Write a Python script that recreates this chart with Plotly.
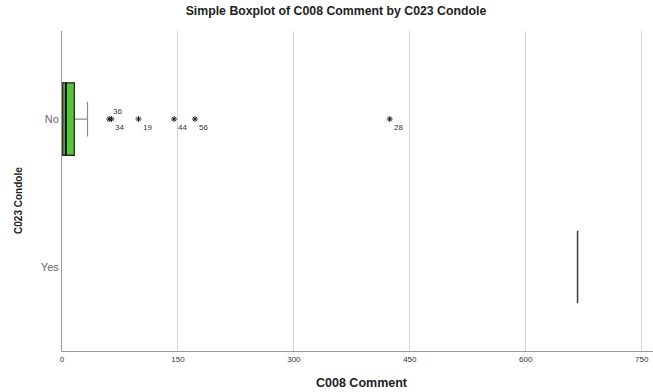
import plotly.graph_objects as go

# Groups on the vertical axis
groups = ["No", "Yes"]
group_pos = [0, 1]

# Box statistics of C008 Comment for each group
lower_fence = [0, 667]
q1 = [1, 667]
median = [5, 667]
q3 = [16, 667]
upper_fence = [33, 667]

# Extreme values (group "No") and their case labels
extreme_values = [61, 64, 99, 145, 172, 424]
extreme_labels = ["36", "34", "19", "44", "56", "28"]
label_lift = [8, -8, -8, -8, -8, -8]

x_ticks = [0, 150, 300, 450, 600, 750]

FONT = "Arial, Liberation Sans, sans-serif"
BOX_W = 0.49

fig = go.Figure()

# Whiskers (grey) for group "No"
fig.add_trace(go.Box(
    y=[group_pos[0]], orientation="h",
    q1=[q1[0]], median=[median[0]], q3=[q3[0]],
    lowerfence=[lower_fence[0]], upperfence=[upper_fence[0]],
    width=BOX_W, whiskerwidth=0.48,
    fillcolor="#5cc23b", line=dict(color="#8a8a8a", width=1.2),
    boxpoints=False, hoverinfo="skip", showlegend=False,
))
# Box body (dark outline) on top
fig.add_trace(go.Box(
    y=[group_pos[0]], orientation="h",
    q1=[q1[0]], median=[median[0]], q3=[q3[0]],
    lowerfence=[q1[0]], upperfence=[q3[0]],
    width=BOX_W, whiskerwidth=0,
    fillcolor="#5cc23b", line=dict(color="#2a2a2a", width=1.3),
    boxpoints=False, hoverinfo="skip", showlegend=False,
))
# Median emphasised
fig.add_trace(go.Scatter(
    x=[median[0], median[0]],
    y=[group_pos[0] - BOX_W / 2, group_pos[0] + BOX_W / 2],
    mode="lines", line=dict(color="#111111", width=2),
    hoverinfo="skip", showlegend=False,
))

# Group "Yes": a single value
fig.add_trace(go.Box(
    y=[group_pos[1]], orientation="h",
    q1=[q1[1]], median=[median[1]], q3=[q3[1]],
    lowerfence=[lower_fence[1]], upperfence=[upper_fence[1]],
    width=BOX_W, whiskerwidth=0.48,
    fillcolor="#5cc23b", line=dict(color="#3a3a3a", width=1.5),
    boxpoints=False, hoverinfo="skip", showlegend=False,
))

fig.add_trace(go.Scatter(
    x=extreme_values, y=[group_pos[0]] * len(extreme_values),
    mode="markers",
    marker=dict(symbol="asterisk-open", size=5, color="#222222",
                line=dict(color="#222222", width=1)),
    hoverinfo="skip", showlegend=False,
))

for v, lab, dy in zip(extreme_values, extreme_labels, label_lift):
    fig.add_annotation(
        x=v, y=group_pos[0], text=lab, showarrow=False,
        xanchor="left", yanchor="middle", xshift=2, yshift=dy,
        font=dict(family=FONT, size=8, color="#333333"),
    )

# Axis titles
fig.add_annotation(
    xref="paper", yref="paper", x=0.5076, y=-0.1, text="<b>C008 Comment</b>",
    showarrow=False, xanchor="center", yanchor="middle",
    font=dict(family=FONT, size=12.5, color="#222222"),
)
fig.add_annotation(
    xref="paper", yref="paper", x=-0.0728, y=0.472, text="<b>C023 Condole</b>",
    showarrow=False, xanchor="center", yanchor="middle", textangle=-90,
    font=dict(family=FONT, size=10, color="#222222"),
)

fig.update_layout(
    width=653, height=392,
    margin=dict(l=62, r=0, t=31, b=41),
    paper_bgcolor="white", plot_bgcolor="white",
    title=dict(text="<b>Simple Boxplot of C008 Comment by C023 Condole</b>",
               x=0.5145, xanchor="center", y=0.972, yanchor="middle",
               font=dict(family=FONT, size=12.3, color="#222222")),
    font=dict(family=FONT),
)

fig.update_xaxes(
    range=[0, 764.6], tickvals=x_ticks, ticktext=[str(t) for t in x_ticks],
    showgrid=True, gridcolor="#d4d4d4", gridwidth=1,
    zeroline=False, showline=True, linecolor="#9a9a9a", linewidth=1,
    ticks="", tickfont=dict(family=FONT, size=8, color="#333333"),
)

fig.update_yaxes(
    range=[1.568, -0.595], tickvals=group_pos, ticktext=groups,
    showgrid=False, zeroline=False, showline=True,
    linecolor="#9a9a9a", linewidth=1, ticks="", ticklen=0,
    tickfont=dict(family=FONT, size=11, color="#666666"),
)

fig.write_html("out.html")
